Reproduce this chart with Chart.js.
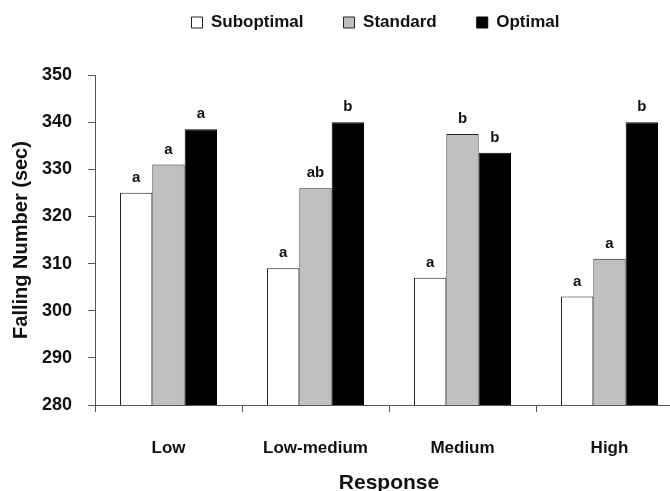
<!DOCTYPE html>
<html>
<head>
<meta charset="utf-8">
<script src="https://cdn.jsdelivr.net/npm/chart.js@4.4.0/dist/chart.umd.min.js"></script>
<style>
html, body { margin: 0; padding: 0; background: #fff; overflow: hidden; }
#wrap { width: 684px; height: 500px; }
</style>
</head>
<body>
<div id="wrap"><canvas id="fallingChart" width="684" height="500"></canvas></div>
<script>
// values
const categories = ['Low', 'Low-medium', 'Medium', 'High'];
const suboptimal = [325, 309, 307, 303];
const standard = [331, 326, 337.5, 311];
const optimal = [338.5, 340, 333.5, 340];
const yTicks = [280, 290, 300, 310, 320, 330, 340, 350];

// significance letters over each bar
const suboptimalLetters = ['a', 'a', 'a', 'a'];
const standardLetters = ['a', 'ab', 'b', 'a'];
const optimalLetters = ['a', 'b', 'b', 'b'];

const FONT = '"Liberation Sans", Arial, sans-serif';

const letterPlugin = {
    id: 'letters',
    afterDatasetsDraw(chart) {
        const ctx = chart.ctx;
        ctx.save();
        ctx.font = 'bold 15px ' + FONT;
        ctx.fillStyle = '#111';
        ctx.textAlign = 'center';
        ctx.textBaseline = 'alphabetic';
        chart.data.datasets.forEach((ds, i) => {
            chart.getDatasetMeta(i).data.forEach((bar, j) => {
                ctx.fillText(ds.letters[j], bar.x, bar.y - 11);
            });
        });
        ctx.restore();
    }
};

// move the legend row right and up, leaving room above the plot
const legendShift = {
    id: 'legendShift',
    afterLayout(chart) {
        const lg = chart.legend;
        lg.left += 34;
        lg.right += 34;
        lg.top -= 34;
        lg.bottom -= 34;
    }
};

const ctx = document.getElementById('fallingChart').getContext('2d');
const fallingChart = new Chart(ctx, {
    type: 'bar',
    data: {
        labels: categories,
        datasets: [{
            label: 'Suboptimal',
            data: suboptimal,
            letters: suboptimalLetters,
            backgroundColor: '#ffffff',
            borderColor: '#222',
            borderWidth: 1
        }, {
            label: 'Standard',
            data: standard,
            letters: standardLetters,
            backgroundColor: '#c0c0c0',
            borderColor: '#222',
            borderWidth: 1
        }, {
            label: 'Optimal',
            data: optimal,
            letters: optimalLetters,
            backgroundColor: '#000000',
            borderColor: '#000',
            borderWidth: 1
        }]
    },
    options: {
        responsive: false,
        animation: false,
        layout: { padding: { top: 8, left: 0, right: 1, bottom: 0 } },
        categoryPercentage: 0.66,
        barPercentage: 1,
        plugins: {
            legend: {
                position: 'top',
                labels: {
                    boxWidth: 11,
                    boxHeight: 11,
                    padding: 40,
                    color: '#111',
                    font: { family: FONT, size: 17, weight: 'bold' }
                }
            },
            tooltip: { enabled: false }
        },
        scales: {
            x: {
                afterFit: s => { s.height = 95; },
                border: { color: '#555', width: 1 },
                grid: { drawOnChartArea: false, tickLength: 7, color: '#555' },
                ticks: {
                    padding: 26,
                    maxRotation: 0,
                    color: '#111',
                    font: { family: FONT, size: 17, weight: 'bold' }
                },
                title: {
                    display: true,
                    text: 'Response',
                    color: '#111',
                    padding: { top: 0, bottom: 4 },
                    font: { family: FONT, size: 21, weight: 'bold' }
                }
            },
            y: {
                min: 280,
                max: 350,
                afterFit: s => { s.width = 95; },
                afterBuildTicks: s => { s.ticks = yTicks.map(v => ({ value: v })); },
                border: { color: '#555', width: 1 },
                grid: { drawOnChartArea: false, tickLength: 7, color: '#555' },
                ticks: {
                    padding: 16,
                    color: '#111',
                    font: { family: FONT, size: 18, weight: 'bold' }
                },
                title: {
                    display: true,
                    text: 'Falling Number (sec)',
                    color: '#111',
                    padding: { top: 9, bottom: 0 },
                    font: { family: FONT, size: 20, weight: 'bold' }
                }
            }
        }
    },
    plugins: [letterPlugin, legendShift]
});
</script>
</body>
</html>
